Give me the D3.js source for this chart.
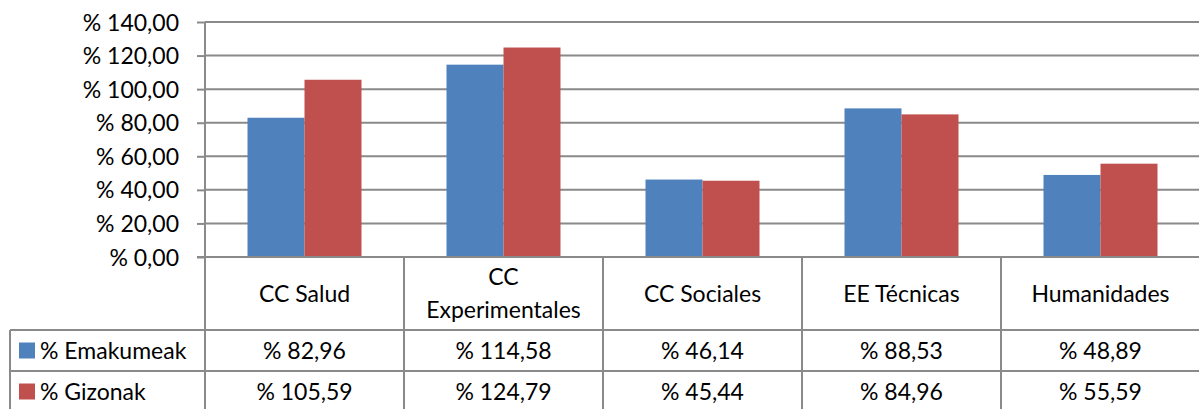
<!DOCTYPE html>
<html>
<head>
<meta charset="utf-8">
<script src="https://cdn.jsdelivr.net/npm/d3@7"></script>
<style>
  body { margin: 0; background: #fff; }
  text { font-family: Lato, "Open Sans", sans-serif; fill: #000; }
</style>
</head>
<body>
<script>
var categories = ['CC Salud', 'CC Experimentales', 'CC Sociales', 'EE Técnicas', 'Humanidades'];
var seriesNames = ['% Emakumeak', '% Gizonak'];
var emakumeak = [82.96, 114.58, 46.14, 88.53, 48.89];
var gizonak = [105.59, 124.79, 45.44, 84.96, 55.59];
var yTicks = [0, 20, 40, 60, 80, 100, 120, 140];
var colors = ['#4F81BD', '#C0504D'];

var width = 1199, height = 409;
var plot = {left: 205, right: 1200, top: 22, bottom: 257};
var rows = {header: 330, r1: 371, r2: 412};
var legendLeft = 10;
var lineColor = '#8a8a8a';
var fontSize = '23px';

var locale = d3.formatLocale({decimal: ',', thousands: '.', grouping: [3], currency: ['', '']});
var fmt = locale.format(',.2f');
function pct(d) { return '% ' + fmt(d); }

var svg = d3.select('body').append('svg')
    .attr('width', width).attr('height', height);

var x = d3.scaleBand().domain(categories).range([plot.left, plot.right]);
var y = d3.scaleLinear().domain([0, 140]).range([plot.bottom, plot.top]);
var barW = 57;
var x1 = d3.scaleBand().domain(seriesNames)
    .range([x.bandwidth() / 2 - barW, x.bandwidth() / 2 + barW]);

// gridlines
svg.append('g').selectAll('line').data(yTicks.slice(1)).join('line')
    .attr('x1', plot.left).attr('x2', width)
    .attr('y1', function(d) { return y(d); }).attr('y2', function(d) { return y(d); })
    .attr('stroke', lineColor).attr('stroke-width', 2);

// bars
var data = [emakumeak, gizonak];
var groups = svg.append('g').selectAll('g').data(categories).join('g')
    .attr('transform', function(c) { return 'translate(' + x(c) + ',0)'; });
groups.selectAll('rect')
    .data(function(c, i) { return seriesNames.map(function(s, j) { return {s: s, v: data[j][i], j: j}; }); })
    .join('rect')
    .attr('x', function(d) { return x1(d.s); })
    .attr('width', x1.bandwidth())
    .attr('y', function(d) { return y(d.v); })
    .attr('height', function(d) { return y(0) - y(d.v); })
    .attr('fill', function(d) { return colors[d.j]; });

// y axis
var yAxis = d3.axisLeft(y).tickValues(yTicks).tickFormat(pct).tickSize(8).tickPadding(18);
var ya = svg.append('g').attr('transform', 'translate(' + plot.left + ',0)').call(yAxis);
ya.select('.domain').remove();
ya.selectAll('.tick line').attr('stroke', lineColor).attr('stroke-width', 2);
ya.selectAll('text').style('font-size', fontSize).attr('dy', '0.35em');

// table lines
var tbl = svg.append('g').attr('stroke', lineColor).attr('stroke-width', 2);
tbl.append('line').attr('x1', plot.left - 8).attr('x2', width).attr('y1', plot.bottom).attr('y2', plot.bottom);
tbl.append('line').attr('x1', plot.left).attr('x2', plot.left).attr('y1', plot.top).attr('y2', height);
tbl.selectAll('.sep').data(categories.slice(1)).join('line')
    .attr('x1', function(c) { return x(c); }).attr('x2', function(c) { return x(c); })
    .attr('y1', plot.bottom).attr('y2', height);
[rows.header, rows.r1].forEach(function(yy) {
  tbl.append('line').attr('x1', legendLeft).attr('x2', width).attr('y1', yy).attr('y2', yy);
});
tbl.append('line').attr('x1', legendLeft).attr('x2', legendLeft).attr('y1', rows.header).attr('y2', height);

// header labels
var hdr = svg.append('g').style('font-size', fontSize).attr('text-anchor', 'middle');
categories.forEach(function(c) {
  var cx = x(c) + x.bandwidth() / 2;
  var parts = c === 'CC Experimentales' ? ['CC', 'Experimentales'] : [c];
  var mid = (plot.bottom + rows.header) / 2;
  parts.forEach(function(p, k) {
    hdr.append('text').attr('x', cx)
      .attr('y', mid + (k - (parts.length - 1) / 2) * 33)
      .attr('dy', '0.35em').text(p);
  });
});

// data rows
var rowMid = [(rows.header + rows.r1) / 2, (rows.r1 + rows.r2) / 2];
data.forEach(function(vals, j) {
  var g = svg.append('g').style('font-size', fontSize);
  g.selectAll('text').data(vals).join('text')
    .attr('text-anchor', 'middle')
    .attr('x', function(d, i) { return x(categories[i]) + x.bandwidth() / 2; })
    .attr('y', rowMid[j]).attr('dy', '0.35em')
    .text(pct);
  g.append('rect').attr('x', 19).attr('y', rowMid[j] - 8).attr('width', 16).attr('height', 16)
    .attr('fill', colors[j]);
  g.append('text').attr('x', 40).attr('y', rowMid[j]).attr('dy', '0.35em').text(seriesNames[j]);
});
</script>
</body>
</html>
